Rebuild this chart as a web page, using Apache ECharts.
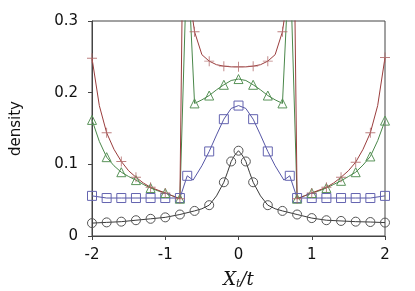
<!DOCTYPE html>
<html><head><meta charset="utf-8">
<script src="https://cdn.jsdelivr.net/npm/echarts@6/dist/echarts.min.js"></script>
<style>html,body{margin:0;padding:0;background:#fff}#c{width:415px;height:291px}</style>
</head><body><div id="c"></div>
<script>
// ---- data ----
const xTicks = [-2, -1, 0, 1, 2];
const yTicks = [0, 0.1, 0.2, 0.3];

// red (+) curve: line
const redLineX = [-2,-1.9,-1.8,-1.7,-1.6,-1.5,-1.4,-1.3,-1.2,-1.1,-1.0,-0.9,-0.8,-0.76,-0.6,-0.5,-0.4,-0.3,-0.2,-0.1,0,0.1,0.2,0.3,0.4,0.5,0.6,0.76,0.8,0.9,1.0,1.1,1.2,1.3,1.4,1.5,1.6,1.7,1.8,1.9,2];
const redLineY = [0.248,0.182,0.144,0.121,0.104,0.091,0.082,0.074,0.068,0.064,0.060,0.056,0.052,0.40,0.285,0.253,0.244,0.239,0.237,0.236,0.236,0.236,0.237,0.239,0.244,0.253,0.285,0.40,0.052,0.056,0.060,0.064,0.068,0.074,0.082,0.091,0.103,0.121,0.144,0.182,0.249];
// red markers
const redMarkX = [-2,-1.8,-1.6,-1.4,-1.2,-1.0,-0.8,-0.6,-0.4,-0.2,0,0.2,0.4,0.6,0.8,1.0,1.2,1.4,1.6,1.8,2];
const redMarkY = [0.248,0.144,0.104,0.082,0.068,0.060,0.052,0.285,0.244,0.237,0.236,0.237,0.244,0.285,0.052,0.060,0.068,0.082,0.103,0.144,0.249];

// green (triangle) curve
const greenLineX = [-2,-1.9,-1.8,-1.7,-1.6,-1.5,-1.4,-1.3,-1.2,-1.1,-1.0,-0.9,-0.8,-0.70,-0.6,-0.5,-0.4,-0.3,-0.2,-0.1,0,0.1,0.2,0.3,0.4,0.5,0.6,0.70,0.8,0.9,1.0,1.1,1.2,1.3,1.4,1.5,1.6,1.7,1.8,1.9,2];
const greenLineY = [0.162,0.132,0.110,0.098,0.089,0.083,0.078,0.072,0.067,0.063,0.060,0.056,0.052,0.40,0.185,0.190,0.196,0.204,0.211,0.217,0.219,0.217,0.211,0.204,0.196,0.190,0.185,0.40,0.052,0.056,0.060,0.063,0.067,0.072,0.077,0.083,0.089,0.099,0.111,0.133,0.161];
const greenMarkX = [-2,-1.8,-1.6,-1.4,-1.2,-1.0,-0.8,-0.6,-0.4,-0.2,0,0.2,0.4,0.6,0.8,1.0,1.2,1.4,1.6,1.8,2];
const greenMarkY = [0.162,0.110,0.089,0.078,0.067,0.060,0.052,0.185,0.196,0.211,0.219,0.211,0.196,0.185,0.052,0.060,0.067,0.077,0.089,0.111,0.161];

// blue (square) curve
const blueLineX = [-2,-1.8,-1.6,-1.4,-1.2,-1.0,-0.8,-0.7,-0.62,-0.5,-0.4,-0.3,-0.2,-0.1,0,0.1,0.2,0.3,0.4,0.5,0.62,0.7,0.8,1.0,1.2,1.4,1.6,1.8,2];
const blueLineY = [0.056,0.053,0.053,0.053,0.053,0.053,0.053,0.084,0.078,0.098,0.118,0.141,0.163,0.178,0.182,0.178,0.163,0.141,0.118,0.098,0.078,0.084,0.053,0.053,0.053,0.053,0.053,0.053,0.056];
const blueMarkX = [-2,-1.8,-1.6,-1.4,-1.2,-1.0,-0.8,-0.7,-0.4,-0.2,0,0.2,0.4,0.7,0.8,1.0,1.2,1.4,1.6,1.8,2];
const blueMarkY = [0.056,0.053,0.053,0.053,0.053,0.053,0.053,0.084,0.118,0.163,0.182,0.163,0.118,0.084,0.053,0.053,0.053,0.053,0.053,0.053,0.056];

// black (circle) curve
const blackLineX = [-2,-1.8,-1.6,-1.4,-1.2,-1.0,-0.8,-0.6,-0.5,-0.4,-0.3,-0.2,-0.15,-0.1,-0.05,0,0.05,0.1,0.15,0.2,0.3,0.4,0.5,0.6,0.8,1.0,1.2,1.4,1.6,1.8,2];
const blackLineY = [0.018,0.019,0.020,0.022,0.024,0.026,0.030,0.035,0.038,0.043,0.056,0.075,0.089,0.104,0.113,0.119,0.113,0.104,0.089,0.075,0.056,0.043,0.038,0.035,0.030,0.025,0.022,0.021,0.020,0.0195,0.0187];
const blackMarkX = [-2,-1.8,-1.6,-1.4,-1.2,-1.0,-0.8,-0.6,-0.4,-0.2,-0.1,0,0.1,0.2,0.4,0.6,0.8,1.0,1.2,1.4,1.6,1.8,2];
const blackMarkY = [0.018,0.019,0.020,0.022,0.024,0.026,0.030,0.035,0.043,0.075,0.104,0.119,0.104,0.075,0.043,0.035,0.030,0.025,0.022,0.021,0.020,0.0195,0.0187];

// ---- chart ----
const zip = (xs, ys) => xs.map((x, i) => [x, ys[i]]);
const C_RED = '#9a3d3d', C_GREEN = '#4a874a', C_BLUE = '#5656a6', C_BLACK = '#3a3a3a';
const AX = '#444';
const FONT = 'DejaVu Sans, Liberation Sans, sans-serif';
const lineS = (xs, ys, c) => ({type: 'line', data: zip(xs, ys), showSymbol: false, symbol: 'none',
  lineStyle: {color: c, width: 1}, silent: true, animation: false, z: 2});
const markS = (xs, ys, c, sym, size) => ({type: 'scatter', data: zip(xs, ys), symbol: sym, symbolSize: size,
  itemStyle: {color: 'rgba(0,0,0,0)', borderColor: c, borderWidth: 1, opacity: 1}, silent: true, animation: false, z: 3});
const crossS = (xs, ys, c) => ({type: 'scatter', data: zip(xs, ys),
  symbol: 'path://M4.55,0h0.9v10h-0.9zM0,4.55h10v0.9h-10z', symbolSize: 10,
  itemStyle: {color: c, opacity: 0.85}, silent: true, animation: false, z: 3});

const chart = echarts.init(document.getElementById('c'), null, {renderer: 'canvas'});
chart.setOption({
  animation: false,
  backgroundColor: '#fff',
  grid: {left: 92, right: 30, top: 21, bottom: 55, containLabel: false, outerBoundsMode: 'none',
    show: true, borderColor: AX, borderWidth: 1, backgroundColor: 'transparent'},
  xAxis: {
    type: 'value', min: xTicks[0], max: xTicks[xTicks.length - 1], interval: 1,
    axisLine: {show: true, onZero: false, lineStyle: {color: AX, width: 1}},
    axisTick: {show: true, inside: false, length: 4, lineStyle: {color: AX}},
    splitLine: {show: false},
    axisLabel: {color: '#111', fontSize: 15, fontFamily: FONT, margin: 12,
      formatter: v => xTicks.includes(v) ? String(v) : ''},
    name: '{a|X}{b|t}{a|/t}', nameLocation: 'middle', nameGap: 34,
    nameTextStyle: {rich: {
      a: {fontFamily: 'DejaVu Serif, Liberation Serif, serif', fontStyle: 'italic', fontSize: 18, color: '#111', lineHeight: 20, verticalAlign: 'middle'},
      b: {fontFamily: 'DejaVu Serif, Liberation Serif, serif', fontStyle: 'italic', fontSize: 11, color: '#111', lineHeight: 10, verticalAlign: 'bottom'}
    }}
  },
  yAxis: {
    type: 'value', min: yTicks[0], max: yTicks[yTicks.length - 1], interval: 0.1,
    axisLine: {show: true, onZero: false, lineStyle: {color: AX, width: 1}},
    axisTick: {show: true, inside: false, length: 4, lineStyle: {color: AX}},
    splitLine: {show: false},
    axisLabel: {color: '#111', fontSize: 15, fontFamily: FONT, margin: 14,
      formatter: v => { const t = yTicks.find(u => Math.abs(u - v) < 1e-9); return t === undefined ? '' : (t === 0 ? '0' : t.toFixed(1)); }},
    name: 'density', nameLocation: 'middle', nameGap: 68,
    nameTextStyle: {color: '#111', fontSize: 15, fontFamily: FONT}
  },
  series: [
    lineS(blackLineX, blackLineY, C_BLACK),
    lineS(blueLineX, blueLineY, C_BLUE),
    lineS(greenLineX, greenLineY, C_GREEN),
    lineS(redLineX, redLineY, C_RED),
    markS(blackMarkX, blackMarkY, '#555', 'circle', 9),
    markS(blueMarkX, blueMarkY, '#6464b0', 'rect', 9),
    markS(greenMarkX, greenMarkY, '#5a945a', 'triangle', 9),
    crossS(redMarkX, redMarkY, '#b06a6a')
  ]
});
</script></body></html>
